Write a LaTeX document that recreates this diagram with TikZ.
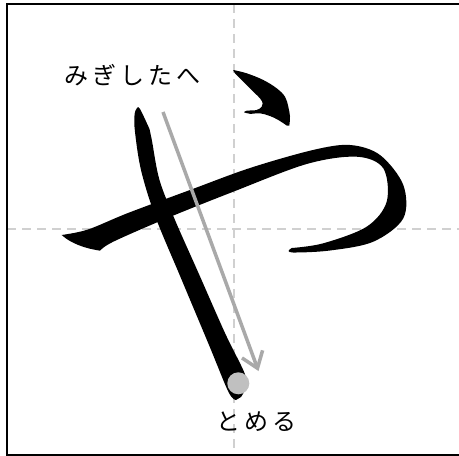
\documentclass[tikz,border=0pt]{standalone}
\usepackage{fontspec}
\newfontfamily\jp{Noto Sans CJK JP}
\usetikzlibrary{arrows.meta}
\definecolor{gridgrey}{HTML}{D0D0D0}
\definecolor{arrowgrey}{HTML}{A9A9A9}
\definecolor{dotgrey}{HTML}{C0C0C0}
\tikzset{
  frame/.style={draw=black, line width=2pt},
  guide/.style={draw=gridgrey, line width=2.2pt, dash pattern=on 9pt off 6pt},
  brush/.style={fill=black, draw=none},
  dirarrow/.style={draw=arrowgrey, line width=3.5pt, -{Straight Barb[length=15pt,width=22pt]}},
  stopdot/.style={circle, fill=dotgrey, draw=none, minimum size=22pt, inner sep=0pt},
  lab/.style={font=\jp\fontsize{24pt}{28pt}\selectfont, text=black, inner sep=0pt}
}
\newcommand{\ks}{\kern4pt}
\begin{document}
\begin{tikzpicture}[x=1pt, y=-1pt]
\useasboundingbox (0,0) rectangle (459,456);
\fill[white] (0,0) rectangle (459,456);
% guides
\draw[guide] (234,4) -- (234,456);
\draw[guide] (7,229) -- (459,229);
% frame
\draw[frame] (7,4) rectangle (462,455);
% stroke 1 (long slanted stroke)
\fill[brush] plot[smooth, tension=0.55] coordinates {(138,107) (134.8,113) (134.8,130) (141,170) (155.5,217) (180.5,277) (209,345) (228.5,392) (236,400)}
  -- plot[smooth, tension=0.55] coordinates {(241,397) (246,387) (244.5,373) (225,333) (198.5,273) (175,220) (159.5,180) (152,141) (149.5,129)}
  -- plot[smooth, tension=0.6] coordinates {(149.5,129) (144,117) (140,109) (138,107)} -- cycle;
% stroke 2 (long horizontal hook)
\fill[brush] plot[smooth, tension=0.55] coordinates {(61.7,235) (88,229.5) (128,213) (190,190) (250,168) (313,150) (350,145) (380,155) (403.3,185) (403.3,218.3) (373.3,241.7) (330,250.5) (293,252.5) (289,250)}
  -- plot[smooth, tension=0.55] coordinates {(291.7,248) (323.3,243.3) (366.7,226.7) (386.7,201.7) (383.3,168.3) (356.7,156.7) (306.7,164) (233.3,191.7) (166.7,218.3) (113.3,241.7) (100,250.7)}
  -- plot[smooth, tension=0.6] coordinates {(100,250.7) (88.3,248.3) (78.3,245) (68.3,240) (61.7,235)} -- cycle;
% stroke 3 (small top hook)
\fill[brush] plot[smooth, tension=0.6] coordinates {(233.3,70) (246.7,73.3) (263.3,80) (276.7,88.3) (285,96.7) (288.3,106.7) (290,116.7) (289.3,125.5)}
  -- plot[smooth, tension=0.6] coordinates {(286.7,125.5) (278.3,120) (270,116) (260,113.3) (250,113.8) (244,112.3)}
  -- plot[smooth, tension=0.6] coordinates {(244,112.3) (246.7,110.7) (256.7,110) (261.7,106.7) (262.7,103.3) (260,98.3) (253.3,91.7) (243.3,81.7) (235,73.3) (233.3,70)} -- cycle;
% direction arrow
\coordinate (arrS) at (163,112);
\coordinate (arrE) at (258.5,371);
\draw[dirarrow] (arrS) -- (arrE);
% stop dot
\node[stopdot] (stop) at (238.3,383.3) {};
% labels
\node[lab] (dir) at (132.5,75) {み\ks ぎ\ks し\ks た\ks へ};
\node[lab] (tome) at (256.5,422) {と\ks め\ks る};
\end{tikzpicture}
\end{document}
